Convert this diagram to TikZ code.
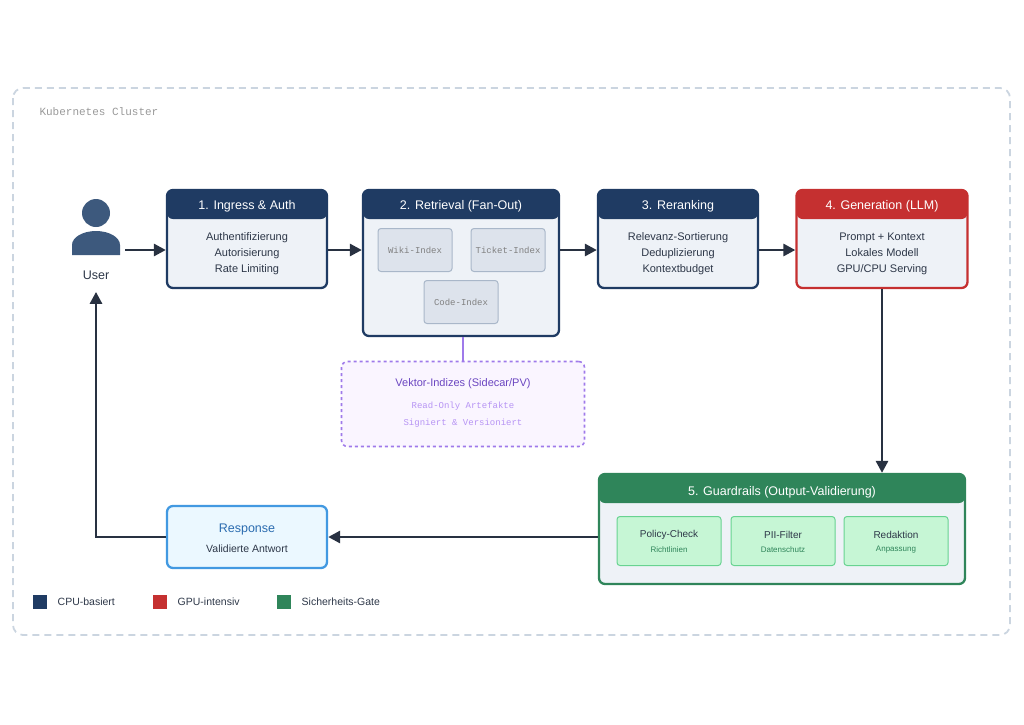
\documentclass[tikz,border=0pt]{standalone}
\usepackage{fontspec}
\setmainfont{Liberation Sans}
\newfontfamily\monofont{Liberation Mono}
\usetikzlibrary{positioning,arrows.meta}
\definecolor{navy}{HTML}{1F3B63}
\definecolor{navyline}{HTML}{2C4F7C}
\definecolor{bodyfill}{HTML}{EEF2F7}
\definecolor{gpured}{HTML}{C53030}
\definecolor{gatefill}{HTML}{2F855A}
\definecolor{subgreen}{HTML}{C6F6D5}
\definecolor{subgreenline}{HTML}{68D391}
\definecolor{respblue}{HTML}{4299E1}
\definecolor{respfill}{HTML}{EBF8FF}
\definecolor{resptext}{HTML}{2B6CB0}
\definecolor{vecline}{HTML}{9F7AEA}
\definecolor{vecfill}{HTML}{FAF5FF}
\definecolor{vectext}{HTML}{6B46C1}
\definecolor{vecmono}{HTML}{B794F4}
\definecolor{idxfill}{HTML}{DDE3EC}
\definecolor{idxline}{HTML}{A9B7C9}
\definecolor{clusterline}{HTML}{CBD5E0}
\definecolor{txt}{HTML}{2D3748}
\tikzset{
  stage/.style n args={3}{draw=#1, line width=2.3pt, rounded corners=6pt, fill=bodyfill,
    minimum width=#2, minimum height=#3,
    path picture={\fill[#1] (path picture bounding box.north west) rectangle
      ([yshift=-29pt]path picture bounding box.north east);}},
  hdr/.style={text=white, font=\fontsize{12.5}{14}\selectfont},
  body/.style={text=txt, font=\fontsize{11}{16}\selectfont, align=center},
  idx/.style={draw=idxline, fill=idxfill, rounded corners=3pt, line width=1pt,
    minimum width=74pt, minimum height=43pt, text=gray, font=\monofont\fontsize{9}{10}\selectfont},
  guard/.style={draw=subgreenline, fill=subgreen, rounded corners=3pt, line width=1pt,
    minimum width=104pt, minimum height=49pt, align=center},
  flow/.style={-{Triangle[length=12pt,width=12pt]}, line width=2.8pt, draw=txt!90!black},
  leg/.style={minimum size=14pt, inner sep=0pt}
}
\begin{document}
\begin{tikzpicture}[x=1pt,y=-1pt]
  \useasboundingbox (0,0) rectangle (1024,724);
  % cluster
  \draw[clusterline, dashed, dash pattern=on 7pt off 5pt, line width=1.8pt, rounded corners=10pt]
    (13,88) rectangle (1010,635);
  \node[anchor=west, text=gray!80, font=\monofont\fontsize{11}{12}\selectfont] (cluster) at (36,112) {Kubernetes Cluster};

  % user
  \fill[navyline!80!gray] (96,213) circle (14pt);
  \fill[navyline!80!gray] (72,255) -- (72,245) arc (180:360:24 and 14) -- (120,255) -- cycle;
  \coordinate (user) at (96,250);
  \node[text=txt, font=\fontsize{12.5}{14}\selectfont] (userlabel) at (96,275) {User};

  % stages
  \node[stage={navy}{160pt}{98pt}] (auth) at (247,239) {};
  \node[hdr] at (247,206) {1. Ingress \& Auth};
  \node[body] at (247,254) {Authentifizierung\\Autorisierung\\Rate Limiting};

  \node[stage={navy}{196pt}{146pt}] (retr) at (461,263) {};
  \node[hdr] at (461,206) {2. Retrieval (Fan-Out)};
  \node[idx] (wiki) at (415,250) {Wiki-Index};
  \node[idx] (ticket) at (508,250) {Ticket-Index};
  \node[idx] (code) at (461,302) {Code-Index};

  \node[stage={navy}{160pt}{98pt}] (rerank) at (678,239) {};
  \node[hdr] at (678,206) {3. Reranking};
  \node[body] at (678,254) {Relevanz-Sortierung\\Deduplizierung\\Kontextbudget};

  \node[stage={gpured}{171pt}{98pt}] (gen) at (882,239) {};
  \node[hdr] at (882,206) {4. Generation (LLM)};
  \node[body] at (882,254) {Prompt + Kontext\\Lokales Modell\\GPU/CPU Serving};

  % vector store
  \node[draw=vecline, fill=vecfill, dashed, line width=1.6pt, rounded corners=6pt,
    minimum width=243pt, minimum height=85pt] (vec) at (463,404) {};
  \node[text=vectext, font=\fontsize{11}{12}\selectfont] at (463,384) {Vektor-Indizes (Sidecar/PV)};
  \node[text=vecmono, font=\monofont\fontsize{9}{17}\selectfont, align=center] at (463,415)
    {Read-Only Artefakte\\Signiert \& Versioniert};
  \draw[vecline, line width=1.6pt] (retr.south -| vec.north) -- (vec.north);

  % guardrails
  \node[stage={gatefill}{366pt}{110pt}] (guard) at (782,529) {};
  \node[hdr] at (782,492) {5. Guardrails (Output-Validierung)};
  \node[guard] (policy) at (669,541) {};
  \node[guard] (pii) at (783,541) {};
  \node[guard] (redakt) at (896,541) {};
  \foreach \n/\a/\b in {policy/Policy-Check/Richtlinien, pii/PII-Filter/Datenschutz, redakt/Redaktion/Anpassung}{
    \node[text=txt, font=\fontsize{10}{12}\selectfont] at ([yshift=6pt]\n.center) {\a};
    \node[text=gatefill, font=\fontsize{8}{9}\selectfont] at ([yshift=-9pt]\n.center) {\b};
  }

  % response
  \node[draw=respblue, fill=respfill, line width=2.3pt, rounded corners=6pt,
    minimum width=160pt, minimum height=62pt] (resp) at (247,537) {};
  \node[text=resptext, font=\fontsize{12.5}{14}\selectfont] at (247,529) {Response};
  \node[text=txt, font=\fontsize{10.5}{12}\selectfont] at (247,549) {Validierte Antwort};

  % flow
  \draw[flow] ([xshift=29pt]user) -- (auth.west |- user);
  \draw[flow] (auth.east |- user) -- (retr.west |- user);
  \draw[flow] (retr.east |- user) -- (rerank.west |- user);
  \draw[flow] (rerank.east |- user) -- (gen.west |- user);
  \draw[flow] (gen.south) -- (gen.south |- guard.north);
  \draw[flow] (guard.west |- resp.center) -- (resp.east);
  \draw[flow] (resp.west) -| ([yshift=-9pt]userlabel.south);

  % legend
  \node[leg, fill=navy] (lcpu) at (40,602) {};
  \node[right=7pt of lcpu, text=txt, font=\fontsize{10.5}{12}\selectfont] {CPU-basiert};
  \node[leg, fill=gpured] (lgpu) at (160,602) {};
  \node[right=7pt of lgpu, text=txt, font=\fontsize{10.5}{12}\selectfont] {GPU-intensiv};
  \node[leg, fill=gatefill] (lgate) at (284,602) {};
  \node[right=7pt of lgate, text=txt, font=\fontsize{10.5}{12}\selectfont] {Sicherheits-Gate};
\end{tikzpicture}
\end{document}
